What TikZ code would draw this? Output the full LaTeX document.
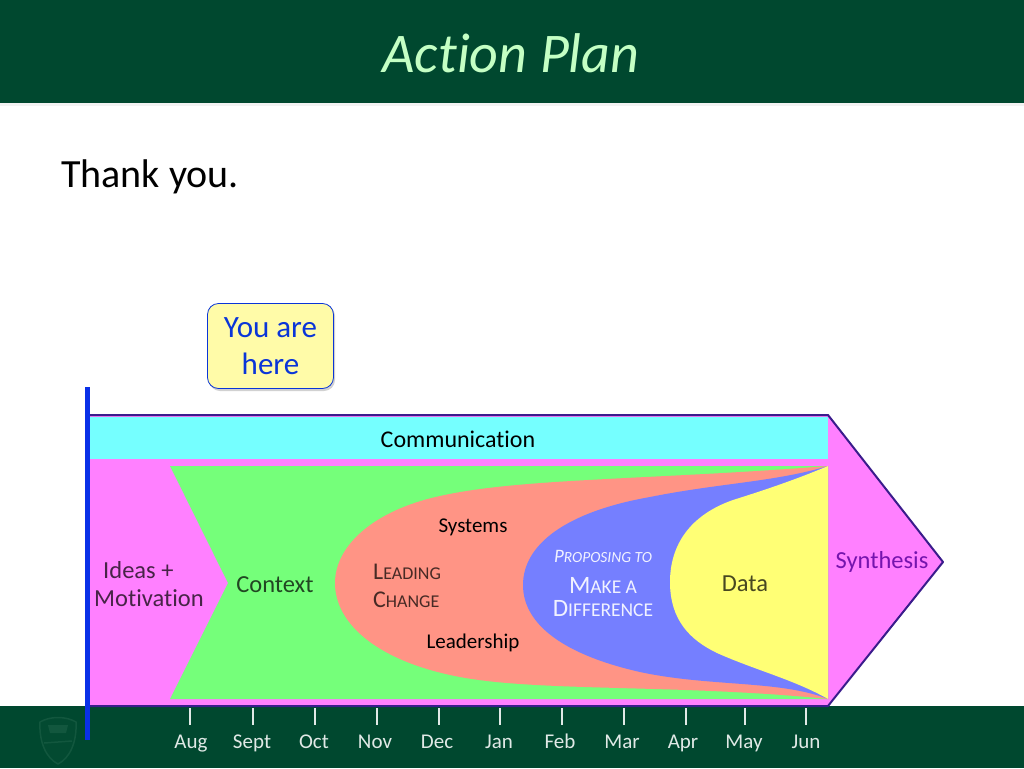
\documentclass[tikz,border=0pt]{standalone}
\usepackage{fontspec}
\setmainfont{Carlito}[Ligatures=NoCommon]
\definecolor{barGreen}{HTML}{00482F}
\definecolor{titleGreen}{HTML}{C4FFC4}
\definecolor{arrowPink}{HTML}{FF80FF}
\definecolor{arrowEdge}{HTML}{3A1C8C}
\definecolor{commCyan}{HTML}{75FFFF}
\definecolor{contextGreen}{HTML}{75FF7A}
\definecolor{changeRed}{HTML}{FF9485}
\definecolor{proposeBlue}{HTML}{757FFF}
\definecolor{dataYellow}{HTML}{FFFF75}
\definecolor{hereYellow}{HTML}{FFFBA8}
\definecolor{hereBlue}{HTML}{0A35D8}
\definecolor{markBlue}{HTML}{0A30E8}
\definecolor{crestGreen}{HTML}{12573E}
\newcommand{\fsz}[1]{\fontsize{#1}{#1}\selectfont}
\newcommand{\capword}[4]{{\fsz{#1}#3}{\fsz{#2}#4}}
\tikzset{
    month/.style={font=\fsz{21}, text=white!88!barGreen, anchor=base},
    phase/.style={font=\fsz{24.5}, anchor=center, align=center},
    smcap/.style={anchor=center, align=center, text=black!72!changeRed}
}
\begin{document}
\begin{tikzpicture}[x=1pt,y=-1pt]
    \useasboundingbox (0,0) rectangle (1024,768);

    % Header and footer
    \fill[black!5] (0,103) rectangle (1024,106);
    \fill[barGreen] (0,0) rectangle (1024,103);
    \fill[barGreen] (0,706) rectangle (1024,768);
    \node[font=\fsz{56}\itshape, text=titleGreen] (title) at (511,53) {Action Plan};
    \node[font=\fsz{40}, anchor=west, inner sep=0pt] (thanks) at (61,177) {Thank you.};

    % Crest
    \draw[crestGreen, line width=1.5pt, fill=barGreen!85!crestGreen]
        (40,722) .. controls (50,716) and (66,716) .. (76,722)
        .. controls (77,742) and (70,758) .. (58,764)
        .. controls (46,758) and (39,742) .. (40,722) -- cycle;
    \fill[crestGreen] (48,725) -- (68,725) -- (66,733) -- (50,733) -- cycle;
    \draw[crestGreen, line width=1.5pt] (44,743) -- (72,741);

    % You are here
    \fill[black!18, rounded corners=11pt] (209,305) rectangle (335,391);
    \node[draw=hereBlue, fill=hereYellow, rounded corners=11pt, line width=0.8pt,
        minimum width=126pt, minimum height=85pt, align=center, inner sep=0pt,
        text=hereBlue, font=\fsz{31}] (here) at (270.5,346)
        {\raisebox{-2pt}{You are}\\[5pt]\raisebox{-3pt}{here}};

    % Arrow and its bands
    \draw[arrowEdge, line width=2pt, fill=arrowPink, line join=round]
        (88,415) -- (828,415) -- (943,562) -- (828,706) -- (88,706) -- cycle;
    \fill[commCyan] (89,417) rectangle (828,459);
    \fill[contextGreen] (170,466) -- (828,466) -- (828,699) -- (170,699) -- (228,583) -- cycle;
    \fill[changeRed] (828,466) .. controls (650,480) and (520,478) .. (440,496)
        .. controls (375,510) and (335,545) .. (335,583)
        .. controls (335,625) and (380,662) .. (460,677)
        .. controls (540,692) and (680,684) .. (828,699) -- cycle;
    \fill[proposeBlue] (828,466) .. controls (775,482) and (720,483) .. (650,497)
        .. controls (565,512) and (523,545) .. (523,585)
        .. controls (523,625) and (565,655) .. (640,672)
        .. controls (710,687) and (780,680) .. (828,699) -- cycle;
    \fill[dataYellow] (828,466) .. controls (790,482) and (755,493) .. (733,500)
        .. controls (690,515) and (670,545) .. (670,582)
        .. controls (670,620) and (690,640) .. (717,653)
        .. controls (755,670) and (795,680) .. (828,699) -- cycle;
    \fill[markBlue] (85,387) rectangle (90,740);

    % Band labels
    \node[phase, font=\fsz{24}] (comm) at (458,439) {Communication};
    \node[phase, text=black!72!arrowPink, align=left] (ideas) at (149,584)
        {\hspace*{9pt}Ideas +\\[4pt]Motivation};
    \node[phase, text=black!72!contextGreen] (context) at (275,585) {Context};
    \node[phase, font=\fsz{21}] (systems) at (473,527) {Systems};
    \node[phase, font=\fsz{21}] (leader) at (473,643) {Leadership};
    \node[smcap, align=left] (change) at (407,586)
        {\capword{24}{18}{L}{EADING}\\[12pt]\capword{24}{18}{C}{HANGE}};
    \node[smcap, text=white!90!proposeBlue, font=\itshape] (propose) at (603,556)
        {\capword{19}{15.5}{P}{ROPOSING TO}};
    \node[smcap, text=white!90!proposeBlue] (diff) at (603,597)
        {\capword{25}{19.5}{M}{AKE A}\\[6pt]\capword{25}{19.5}{D}{IFFERENCE}};
    \node[phase, text=black!72!dataYellow] (data) at (745,584) {Data};
    \node[phase, text=arrowEdge!70!magenta] (synth) at (882,562) {Synthesis};

    % Timeline
    \foreach \x/\m/\lx in {190/Aug/191, 253/Sept/252, 315/Oct/314, 377/Nov/375,
        439/Dec/437, 500/Jan/499, 562/Feb/560, 624/Mar/622, 686/Apr/683,
        745/May/744, 806/Jun/806}
    {
        \draw[white!88!barGreen, line width=1.3pt] (\x,708) -- (\x,725);
        \node[month] (m\m) at (\lx,748) {\m};
    }

\end{tikzpicture}
\end{document}
